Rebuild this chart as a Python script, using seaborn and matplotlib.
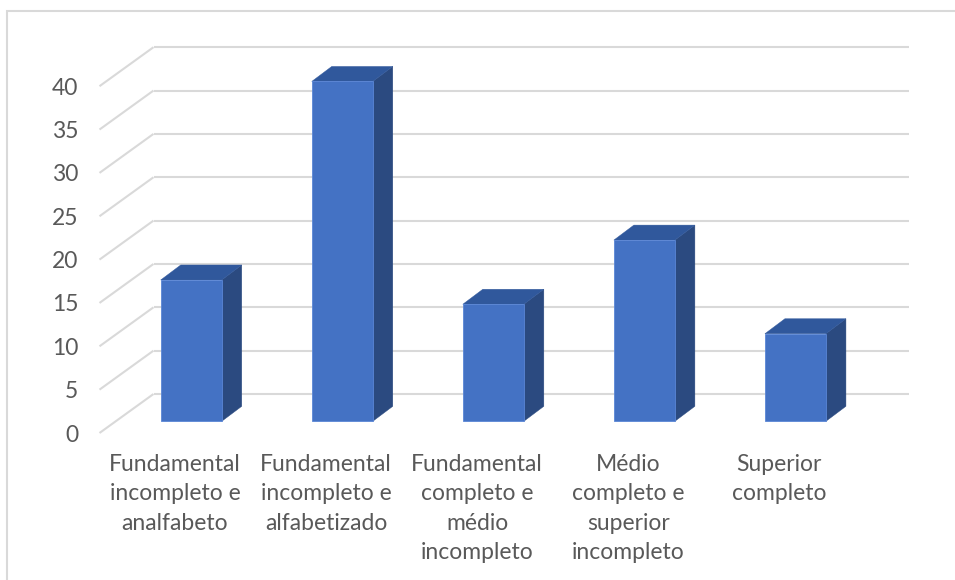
import numpy as np
import pandas as pd
import matplotlib
matplotlib.use("Agg")
import matplotlib.pyplot as plt
from matplotlib.patches import Polygon, Rectangle
import seaborn as sns

# Schooling levels and their shares (%)
categories = [
    "Fundamental\nincompleto e\nanalfabeto",
    "Fundamental\nincompleto e\nalfabetizado",
    "Fundamental\ncompleto e\nmédio\nincompleto",
    "Médio\ncompleto e\nsuperior\nincompleto",
    "Superior\ncompleto",
]
values = [16.3, 39.2, 13.5, 20.9, 10.1]
y_ticks = [0, 5, 10, 15, 20, 25, 30, 35, 40]

df = pd.DataFrame({"nivel": categories, "pct": values})

sns.set_style("white")
plt.rcParams["font.family"] = ["Lato", "DejaVu Sans"]

W, H = 955, 580
fig = plt.figure(figsize=(W / 100, H / 100), dpi=100)

# pixel geometry of the plane holding the bar fronts
px_per_x = 151.05
px_per_y = 8.67
x_left_px = 115.7
zero_px = 421.3          # y of value 0 (from top)
y_lo, y_hi = -2.0, 45.0
ax_bottom_px = zero_px - y_lo * px_per_y
ax_top_px = zero_px - y_hi * px_per_y
ax = fig.add_axes([
    x_left_px / W,
    (H - ax_bottom_px) / H,
    5 * px_per_x / W,
    (ax_bottom_px - ax_top_px) / H,
])

# oblique depth offsets (data units)
front_dx, front_dy = -16.2 / px_per_x, -11.7 / px_per_y
back_dx, back_dy = 37.8 / px_per_x, 27.3 / px_per_y
bar_dx, bar_dy = 20.0 / px_per_x, 15.0 / px_per_y

grid_c = "#d9d9d9"
# back wall gridlines with the diagonal floor lines
for v in y_ticks:
    ax.plot([-0.5 + back_dx, 4.5 + back_dx], [v + back_dy, v + back_dy],
            color=grid_c, lw=1.5, zorder=0, clip_on=False, solid_capstyle="butt")
    ax.plot([-0.5 + front_dx, -0.5 + back_dx], [v + front_dy, v + back_dy],
            color=grid_c, lw=1.5, zorder=0, clip_on=False, solid_capstyle="butt")

sns.barplot(data=df, x="nivel", y="pct", color="#4472C4", saturation=1,
            width=0.404, ax=ax, zorder=3, edgecolor="#5a86d6", linewidth=0.6)

side_c = "#2b4a80"
top_c = "#30589c"
for p in list(ax.patches):
    x0 = p.get_x()
    x1 = x0 + p.get_width()
    h = p.get_height()
    side = Polygon([(x1, 0), (x1 + bar_dx, bar_dy), (x1 + bar_dx, h + bar_dy), (x1, h)],
                   closed=True, facecolor=side_c, edgecolor=side_c, lw=0.3, zorder=2.5)
    top = Polygon([(x0, h), (x0 + bar_dx, h + bar_dy), (x1 + bar_dx, h + bar_dy), (x1, h)],
                  closed=True, facecolor=top_c, edgecolor=top_c, lw=0.3, zorder=2.5)
    ax.add_patch(side)
    ax.add_patch(top)

ax.set_xlim(-0.5, 4.5)
ax.set_ylim(y_lo, y_hi)

txt_c = "#595959"
ax.set_yticks([v + front_dy for v in y_ticks])
ax.set_yticklabels([str(v) for v in y_ticks], fontsize=16.5, color=txt_c)
ax.set_xticks([i + front_dx for i in range(len(categories))])
ax.set_xticklabels(categories, fontsize=16.5, color=txt_c, linespacing=1.5)
ax.tick_params(axis="y", length=0, pad=27)
ax.tick_params(axis="x", length=0, pad=11)
ax.set_xlabel("")
ax.set_ylabel("")
for s in ax.spines.values():
    s.set_visible(False)
ax.patch.set_alpha(0)

# chart area border
fig.add_artist(Rectangle((7 / W, -0.05), 1.2, (H - 11) / H + 0.05,
                         transform=fig.transFigure, fill=False,
                         edgecolor="#d9d9d9", lw=1.5))

fig.savefig("out.png", dpi=100)
